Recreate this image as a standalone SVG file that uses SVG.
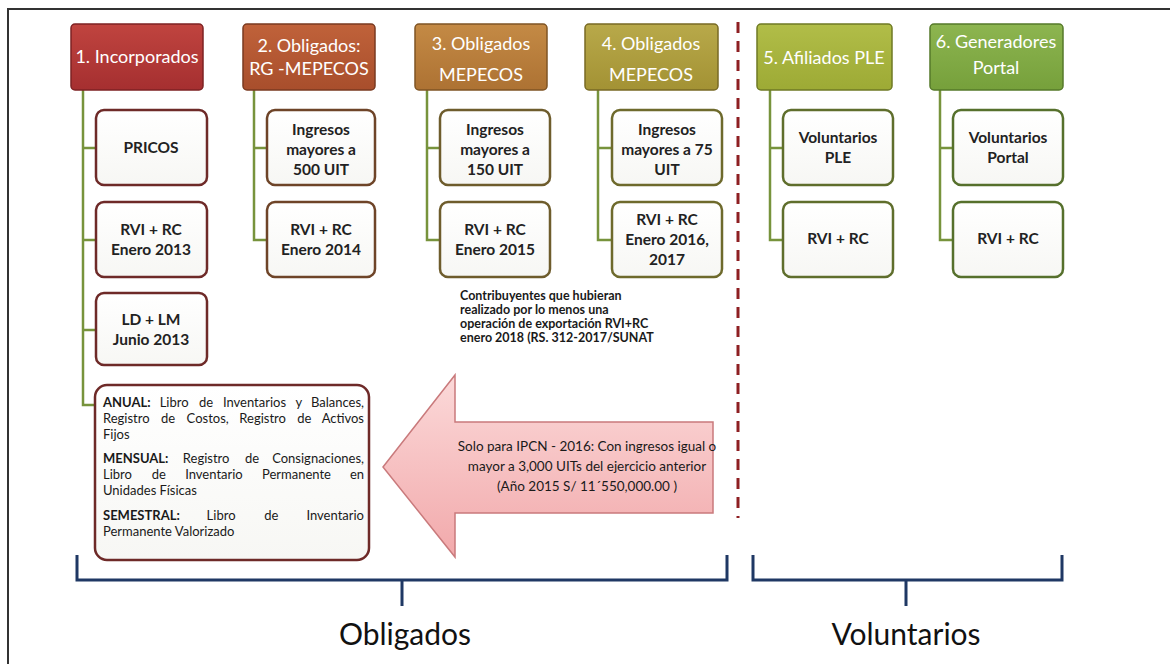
<svg xmlns="http://www.w3.org/2000/svg" width="1170" height="664" viewBox="0 0 1170 664">
<style>
.hd{font-family:Lato,"Open Sans","Liberation Sans",sans-serif;font-size:18px;fill:#fff;text-anchor:middle}
.ch{font-family:Lato,"Open Sans","Liberation Sans",sans-serif;font-size:15.5px;font-weight:bold;fill:#222;text-anchor:middle}
.cb{fill:url(#wg);stroke-width:2.5}
.sm{font-family:Lato,"Open Sans","Liberation Sans",sans-serif;font-size:12.5px;font-weight:bold;fill:#1a1a1a}
.bx{font-family:Lato,"Open Sans","Liberation Sans",sans-serif;font-size:13px;fill:#1a1a1a}
.e{text-anchor:end}
.ar{font-family:Lato,"Open Sans","Liberation Sans",sans-serif;font-size:13.5px;fill:#1a1a1a;text-anchor:middle}
.big{font-family:Lato,"Open Sans","Liberation Sans",sans-serif;font-size:30px;fill:#111;text-anchor:middle}
.ln{fill:none;stroke:#77933C;stroke-width:2.5}
.br{fill:none;stroke:#1F3864;stroke-width:3}
</style>
<defs>
<linearGradient id="wg" x1="0" y1="0" x2="0" y2="1"><stop offset="0" stop-color="#fff"/><stop offset="1" stop-color="#f7f7f4"/></linearGradient>
<linearGradient id="g1" x1="0" y1="0" x2="0" y2="1"><stop offset="0" stop-color="#C0443F"/><stop offset="1" stop-color="#A52F30"/></linearGradient>
<linearGradient id="g2" x1="0" y1="0" x2="0" y2="1"><stop offset="0" stop-color="#C0623A"/><stop offset="1" stop-color="#A84E2C"/></linearGradient>
<linearGradient id="g3" x1="0" y1="0" x2="0" y2="1"><stop offset="0" stop-color="#C48A45"/><stop offset="1" stop-color="#AD7233"/></linearGradient>
<linearGradient id="g4" x1="0" y1="0" x2="0" y2="1"><stop offset="0" stop-color="#B8A94A"/><stop offset="1" stop-color="#A39234"/></linearGradient>
<linearGradient id="g5" x1="0" y1="0" x2="0" y2="1"><stop offset="0" stop-color="#B1BD48"/><stop offset="1" stop-color="#9DAA35"/></linearGradient>
<linearGradient id="g6" x1="0" y1="0" x2="0" y2="1"><stop offset="0" stop-color="#8DB550"/><stop offset="1" stop-color="#76A03B"/></linearGradient>
<linearGradient id="pk" x1="0" y1="0" x2="0" y2="1"><stop offset="0" stop-color="#FBD9D9"/><stop offset="1" stop-color="#F2A9AB"/></linearGradient>
</defs>
<rect width="1170" height="664" fill="#fff"/>
<path d="M8 664 V9 H1170" fill="none" stroke="#333" stroke-width="2"/>

<g id="connectors">
<path class="ln" d="M83 90 V405 H95 M83 148 H96 M83 240 H96 M83 330 H96"/>
<path class="ln" d="M254 90 V240 H267 M254 148 H267"/>
<path class="ln" d="M427 90 V240 H440 M427 148 H440"/>
<path class="ln" d="M598 90 V240 H612 M598 148 H612"/>
<path class="ln" d="M770 90 V240 H783 M770 148 H783"/>
<path class="ln" d="M940 90 V240 H953 M940 148 H953"/>
</g>

<g id="h1"><rect x="71" y="24" width="132" height="66" rx="4" fill="url(#g1)" stroke="#7E2223" stroke-width="1.5"/><text class="hd" x="137" y="63">1. Incorporados</text></g>
<g id="h2"><rect x="243" y="24" width="132" height="66" rx="4" fill="url(#g2)" stroke="#7A3A20" stroke-width="1.5"/><text class="hd" x="309" y="52" font-size="19.5">2. Obligados:</text><text class="hd" x="309" y="75" font-size="19.5">RG -MEPECOS</text></g>
<g id="h3"><rect x="415" y="24" width="132" height="66" rx="4" fill="url(#g3)" stroke="#7F5424" stroke-width="1.5"/><text class="hd" x="481" y="50">3. Obligados</text><text class="hd" x="481" y="81">MEPECOS</text></g>
<g id="h4"><rect x="585" y="24" width="133" height="66" rx="4" fill="url(#g4)" stroke="#786A24" stroke-width="1.5"/><text class="hd" x="651" y="50">4. Obligados</text><text class="hd" x="651" y="81">MEPECOS</text></g>
<g id="h5"><rect x="757" y="24" width="135" height="66" rx="4" fill="url(#g5)" stroke="#6F7A24" stroke-width="1.5"/><text class="hd" x="824" y="64">5. Afiliados PLE</text></g>
<g id="h6"><rect x="930" y="24" width="133" height="66" rx="4" fill="url(#g6)" stroke="#567A2A" stroke-width="1.5"/><text class="hd" x="996" y="48" font-size="18.5">6. Generadores</text><text class="hd" x="996" y="74" font-size="18.5">Portal</text></g>

<g id="c1a"><rect class="cb" x="96" y="110" width="111" height="75" rx="8" stroke="#6E2A28"/><text class="ch" x="151" y="153">PRICOS</text></g>
<g id="c1b"><rect class="cb" x="96" y="202" width="111" height="75" rx="8" stroke="#6E2A28"/><text class="ch" x="151" y="235">RVI + RC</text><text class="ch" x="151" y="255">Enero 2013</text></g>
<g id="c1c"><rect class="cb" x="96" y="293" width="111" height="72" rx="8" stroke="#6E2A28"/><text class="ch" x="151" y="325">LD + LM</text><text class="ch" x="151" y="345">Junio 2013</text></g>
<g id="c1d"><rect class="cb" x="95" y="385" width="274" height="175" rx="12" stroke="#6E2A28"/>
<text class="bx" y="407"><tspan x="103" font-weight="bold">ANUAL:</tspan><tspan x="159.7">Libro</tspan><tspan x="198.9">de</tspan><tspan x="222.9">Inventarios</tspan><tspan x="295.6">y</tspan><tspan x="364" class="e">Balances,</tspan></text>
<text class="bx" y="423"><tspan x="103">Registro</tspan><tspan x="160.9">de</tspan><tspan x="186.6">Costos,</tspan><tspan x="239.3">Registro</tspan><tspan x="297.2">de</tspan><tspan x="364" class="e">Activos</tspan></text>
<text class="bx" x="103" y="439">Fijos</text>
<text class="bx" y="463"><tspan x="103" font-weight="bold">MENSUAL:</tspan><tspan x="182.8">Registro</tspan><tspan x="244.9">de</tspan><tspan x="364" class="e">Consignaciones,</tspan></text>
<text class="bx" y="479"><tspan x="103">Libro</tspan><tspan x="151.7">de</tspan><tspan x="185.2">Inventario</tspan><tspan x="262">Permanente</tspan><tspan x="364" class="e">en</tspan></text>
<text class="bx" x="103" y="495">Unidades Físicas</text>
<text class="bx" y="520"><tspan x="103" font-weight="bold">SEMESTRAL:</tspan><tspan x="206.6">Libro</tspan><tspan x="264.3">de</tspan><tspan x="364" class="e">Inventario</tspan></text>
<text class="bx" x="103" y="536">Permanente Valorizado</text></g>

<g id="c2a"><rect class="cb" x="267" y="110" width="108" height="75" rx="8" stroke="#6E4428"/><text class="ch" x="321" y="135">Ingresos</text><text class="ch" x="321" y="155">mayores a</text><text class="ch" x="321" y="175">500 UIT</text></g>
<g id="c2b"><rect class="cb" x="267" y="202" width="108" height="75" rx="8" stroke="#6E4428"/><text class="ch" x="321" y="235">RVI + RC</text><text class="ch" x="321" y="255">Enero 2014</text></g>

<g id="c3a"><rect class="cb" x="440" y="110" width="110" height="75" rx="8" stroke="#6E5C2C"/><text class="ch" x="495" y="135">Ingresos</text><text class="ch" x="495" y="155">mayores a</text><text class="ch" x="495" y="175">150 UIT</text></g>
<g id="c3b"><rect class="cb" x="440" y="202" width="110" height="75" rx="8" stroke="#6E5C2C"/><text class="ch" x="495" y="235">RVI + RC</text><text class="ch" x="495" y="255">Enero 2015</text></g>

<g id="c4a"><rect class="cb" x="612" y="110" width="110" height="75" rx="8" stroke="#6E6A2C"/><text class="ch" x="667" y="135">Ingresos</text><text class="ch" x="667" y="155">mayores a 75</text><text class="ch" x="667" y="175">UIT</text></g>
<g id="c4b"><rect class="cb" x="612" y="202" width="110" height="75" rx="8" stroke="#6E6A2C"/><text class="ch" x="667" y="225">RVI + RC</text><text class="ch" x="667" y="245">Enero 2016,</text><text class="ch" x="667" y="265">2017</text></g>

<g id="c5a"><rect class="cb" x="783" y="110" width="110" height="75" rx="8" stroke="#5F6E2C"/><text class="ch" x="838" y="143">Voluntarios</text><text class="ch" x="838" y="163">PLE</text></g>
<g id="c5b"><rect class="cb" x="783" y="202" width="110" height="75" rx="8" stroke="#5F6E2C"/><text class="ch" x="838" y="244">RVI + RC</text></g>

<g id="c6a"><rect class="cb" x="953" y="110" width="110" height="75" rx="8" stroke="#56702C"/><text class="ch" x="1008" y="143">Voluntarios</text><text class="ch" x="1008" y="163">Portal</text></g>
<g id="c6b"><rect class="cb" x="953" y="202" width="110" height="75" rx="8" stroke="#56702C"/><text class="ch" x="1008" y="244">RVI + RC</text></g>

<g id="note"><text class="sm" x="460" y="300">Contribuyentes que hubieran</text><text class="sm" x="460" y="314">realizado por lo menos una</text><text class="sm" x="460" y="328">operación de exportación RVI+RC</text><text class="sm" x="460" y="342">enero 2018 (RS. 312-2017/SUNAT</text></g>

<g id="arrow"><path d="M383 467 L455 375 V422 H713 V513 H455 V557 Z" fill="url(#pk)" stroke="#C97A7C" stroke-width="1.5"/>
<text class="ar" x="587" y="451">Solo para IPCN - 2016: Con ingresos igual o</text>
<text class="ar" x="587" y="471">mayor a 3,000 UITs  del ejercicio anterior</text>
<text class="ar" x="587" y="491">(Año 2015 S/ 11´550,000.00 )</text></g>

<g id="divider"><line x1="738" y1="22" x2="738" y2="518" stroke="#8E1F22" stroke-width="3" stroke-dasharray="11 8"/></g>

<g id="brace-obligados"><path class="br" d="M77 555 V580 H727 V555 M402 580 V606"/><text class="big" x="405" y="645">Obligados</text></g>
<g id="brace-voluntarios"><path class="br" d="M753 555 V580 H1062 V555 M906 580 V606"/><text class="big" x="906" y="645">Voluntarios</text></g>
</svg>
